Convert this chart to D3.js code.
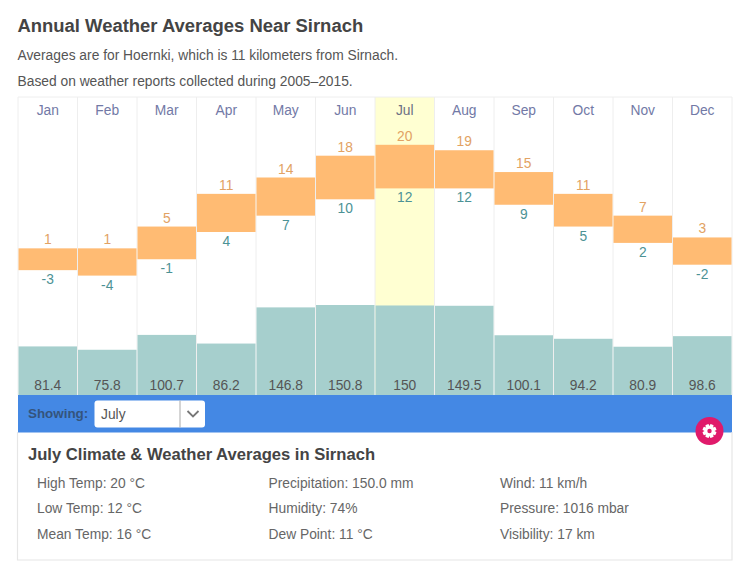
<!DOCTYPE html>
<html lang="en">
<head>
  <meta charset="UTF-8" />
  <title>Annual Weather Averages Near Sirnach</title>
  <style>
    html, body { margin: 0; background: #fff; }
    svg { display: block; font-family: 'Liberation Sans', Arial, sans-serif; }
  </style>
</head>
<body>
  <svg id="chart" width="750" height="579"></svg>

  <script src="https://d3js.org/d3.v7.min.js"></script>
  <script>
    const months = ["Jan", "Feb", "Mar", "Apr", "May", "Jun", "Jul", "Aug", "Sep", "Oct", "Nov", "Dec"];
    const highTemps = [1, 1, 5, 11, 14, 18, 20, 19, 15, 11, 7, 3];
    const lowTemps = [-3, -4, -1, 4, 7, 10, 12, 12, 9, 5, 2, -2];
    const precipitation = [81.4, 75.8, 100.7, 86.2, 146.8, 150.8, 150, 149.5, 100.1, 94.2, 80.9, 98.6];
    const selectedMonth = "Jul";

    const detailsLeft = ["High Temp: 20 °C", "Low Temp: 12 °C", "Mean Temp: 16 °C"];
    const detailsMiddle = ["Precipitation: 150.0 mm", "Humidity: 74%", "Dew Point: 11 °C"];
    const detailsRight = ["Wind: 11 km/h", "Pressure: 1016 mbar", "Visibility: 17 km"];

    const svg = d3.select("#chart");

    const plotLeft = 18, plotRight = 732, plotTop = 97, barBase = 395;

    const x = d3.scaleBand().domain(months).range([plotLeft, plotRight]);
    const yTemp = d3.scaleLinear().domain([-4, 20]).range([275.6, 144.8]);
    const yPrecip = d3.scaleLinear().domain([0, 150.8]).range([barBase, 305]);

    const idx = months.map((m, i) => i);

    // header text
    svg.append("text").attr("x", 17.5).attr("y", 32)
      .attr("font-size", 18.45).attr("font-weight", "bold").attr("fill", "#444")
      .text("Annual Weather Averages Near Sirnach");
    svg.append("text").attr("x", 17.5).attr("y", 60)
      .attr("font-size", 13.8).attr("fill", "#555")
      .text("Averages are for Hoernki, which is 11 kilometers from Sirnach.");
    svg.append("text").attr("x", 17.5).attr("y", 86)
      .attr("font-size", 13.8).attr("fill", "#555")
      .text("Based on weather reports collected during 2005–2015.");

    // selected month highlight
    svg.append("rect")
      .attr("x", x(selectedMonth)).attr("y", plotTop)
      .attr("width", x.bandwidth()).attr("height", barBase - plotTop)
      .attr("fill", "#ffffd2");

    // column grid
    svg.append("line").attr("x1", plotLeft).attr("x2", plotRight).attr("y1", plotTop).attr("y2", plotTop)
      .attr("stroke", "#eeeeee");
    svg.selectAll(".grid")
      .data(months.concat("end"))
      .join("line")
      .attr("class", "grid")
      .attr("x1", d => (d === "end" ? plotRight : x(d)))
      .attr("x2", d => (d === "end" ? plotRight : x(d)))
      .attr("y1", plotTop).attr("y2", barBase)
      .attr("stroke", "#eeeeee");

    // temperature range bars
    svg.selectAll(".temp")
      .data(idx)
      .join("rect")
      .attr("class", "temp")
      .attr("x", i => x(months[i]) + 0.5)
      .attr("width", x.bandwidth() - 1)
      .attr("y", i => yTemp(highTemps[i]))
      .attr("height", i => yTemp(lowTemps[i]) - yTemp(highTemps[i]))
      .attr("fill", "#ffbb73");

    // precipitation bars
    svg.selectAll(".precip")
      .data(idx)
      .join("rect")
      .attr("class", "precip")
      .attr("x", i => x(months[i]) + 0.5)
      .attr("width", x.bandwidth() - 1)
      .attr("y", i => yPrecip(precipitation[i]))
      .attr("height", i => barBase - yPrecip(precipitation[i]))
      .attr("fill", "#a6cfcd");

    const columnLabels = (data, cls, yPos, colour, label, size) =>
      svg.selectAll("." + cls)
        .data(data)
        .join("text")
        .attr("class", cls)
        .attr("x", i => x(months[i]) + x.bandwidth() / 2)
        .attr("y", yPos)
        .attr("text-anchor", "middle")
        .attr("font-size", size)
        .attr("fill", colour)
        .text(label);

    columnLabels(idx, "month", 115, i => (months[i] === selectedMonth ? "#6c7085" : "#7279a6"), i => months[i], 13.8);
    columnLabels(idx, "high", i => yTemp(highTemps[i]) - 4, "#e2a263", i => highTemps[i], 13.8);
    columnLabels(idx, "low", i => yTemp(lowTemps[i]) + 14, "#4c9295", i => lowTemps[i], 13.8);
    columnLabels(idx, "amount", 390, "#555", i => precipitation[i], 13.8);

    // month selector strip
    svg.append("rect").attr("x", plotLeft).attr("y", 395).attr("width", plotRight - plotLeft).attr("height", 37.5)
      .attr("fill", "#4488e4");
    svg.append("text").attr("x", 28).attr("y", 418)
      .attr("font-size", 13.4).attr("font-weight", "bold").attr("fill", "#34547c")
      .text("Showing:");
    svg.append("rect").attr("x", 94.5).attr("y", 400.5).attr("width", 110.5).attr("height", 27).attr("rx", 3)
      .attr("fill", "#fff");
    svg.append("line").attr("x1", 180).attr("x2", 180).attr("y1", 400.5).attr("y2", 427.5)
      .attr("stroke", "#aaa");
    svg.append("text").attr("x", 101).attr("y", 419)
      .attr("font-size", 13.8).attr("fill", "#555").text("July");
    svg.append("path").attr("d", "M187.5,411 L193,416.5 L198.5,411")
      .attr("fill", "none").attr("stroke", "#777").attr("stroke-width", 1.8);

    // details panel
    svg.append("path").attr("d", `M${plotLeft - 0.5},432 V560 H${plotRight} V432`)
      .attr("fill", "none").attr("stroke", "#e6e6e6").attr("stroke-width", 1.2);
    svg.append("text").attr("x", 28).attr("y", 460)
      .attr("font-size", 16.6).attr("font-weight", "bold").attr("fill", "#444")
      .text("July Climate & Weather Averages in Sirnach");

    [[37, detailsLeft], [268.5, detailsMiddle], [500, detailsRight]].forEach(([colX, rows]) => {
      rows.forEach((row, i) => {
        svg.append("text").attr("x", colX).attr("y", 487.5 + i * 25.8)
          .attr("font-size", 13.8).attr("fill", "#666").text(row);
      });
    });

    // settings button
    const gear = svg.append("g").attr("transform", "translate(709.5,431)");
    gear.append("circle").attr("r", 14).attr("fill", "#e01a6b");
    d3.range(0, 180, 45).forEach(a => {
      gear.append("rect").attr("x", -1.8).attr("y", -7).attr("width", 3.6).attr("height", 14)
        .attr("rx", 0.8).attr("transform", `rotate(${a + 22.5})`).attr("fill", "#fff");
    });
    gear.append("circle").attr("r", 5.2).attr("fill", "#fff");
    gear.append("circle").attr("r", 2.2).attr("fill", "#e01a6b");
  </script>
</body>
</html>
